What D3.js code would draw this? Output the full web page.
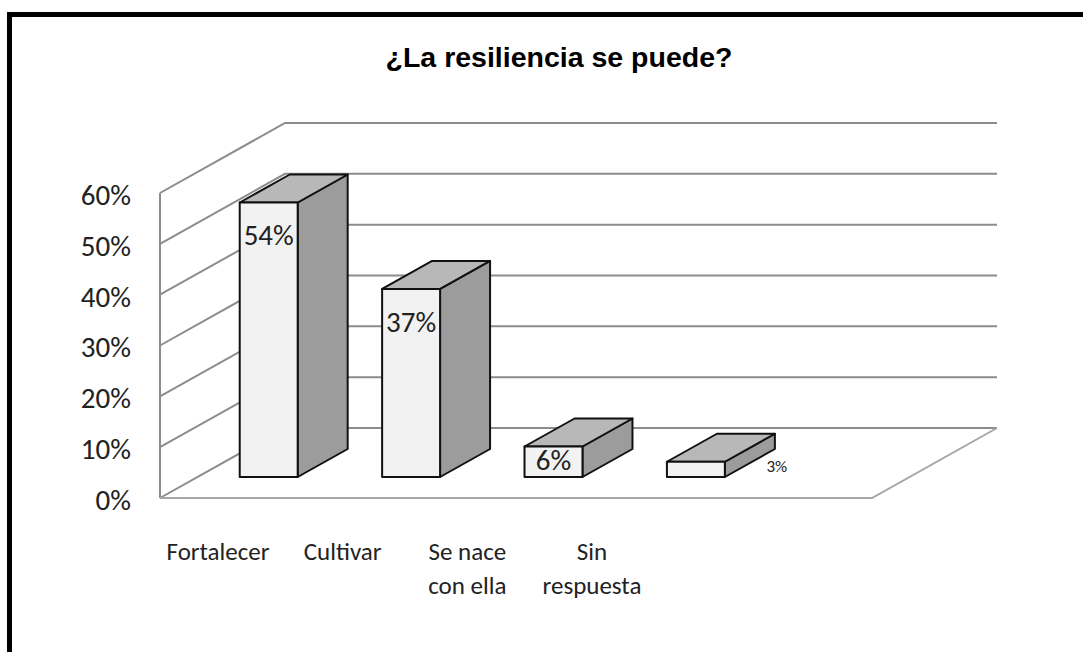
<!DOCTYPE html>
<html>
<head>
<meta charset="utf-8">
<script src="https://cdn.jsdelivr.net/npm/d3@7"></script>
<style>
  body { margin: 0; background: #fff; }
  svg { display: block; }
  .lbl { font-family: Carlito, Lato, "Open Sans", sans-serif; fill: #222; }
</style>
</head>
<body>
<svg id="chart" width="1083" height="652"></svg>
<script>
// chart values
const categories = ["Fortalecer", "Cultivar", "Se nace con ella", "Sin respuesta"];
const categoryLines = [["Fortalecer"], ["Cultivar"], ["Se nace", "con ella"], ["Sin", "respuesta"]];
const values = [0.54, 0.37, 0.06, 0.03];
const valueLabels = ["54%", "37%", "6%", "3%"];
const yTicks = [0, 0.1, 0.2, 0.3, 0.4, 0.5, 0.6];
const title = "¿La resiliencia se puede?";

let svg = d3.select("svg#chart");

// frame round the chart (runs off the right and bottom edge like the original)
svg.append("rect")
  .attr("x", 9.5).attr("y", 14.5)
  .attr("width", 1100).attr("height", 700)
  .attr("fill", "none").attr("stroke", "#000").attr("stroke-width", 5);

svg.append("text")
  .attr("x", 559).attr("y", 67)
  .attr("text-anchor", "middle")
  .style("font-family", "'Liberation Sans', Arial, sans-serif")
  .style("font-weight", "bold")
  .style("font-size", "28.5px")
  .text(title);

// front plane scales, depth is added by hand (fake 3d like excel)
let yScale = d3.scaleLinear().domain([0, 0.6]).range([498, 193]);
let step = 142.4;
let xScale = d3.scaleBand()
  .domain(categories)
  .range([160, 160 + categories.length * step])
  .paddingInner(0.593)
  .paddingOuter(0.2965);
let floorRight = 160 + (categories.length + 1) * step;
let depthX = 125, depthY = -70;

function proj(x, v, d) {
  return [x + depthX * d, yScale(v) + depthY * d];
}

let grid = svg.append("g").attr("fill", "none");

// side wall + back wall lines
yTicks.forEach(t => {
  let a = proj(160, t, 0), b = proj(160, t, 1), c = proj(floorRight, t, 1);
  grid.append("path")
    .attr("d", d3.line()([a, b, c]))
    .attr("stroke", "#8c8c8c").attr("stroke-width", 2);
});
// front edge of side wall
grid.append("path")
  .attr("d", d3.line()([proj(160, 0, 0), proj(160, 0.6, 0)]))
  .attr("stroke", "#8c8c8c").attr("stroke-width", 2);
// floor
grid.append("path")
  .attr("d", d3.line()([proj(160, 0, 0), proj(floorRight, 0, 0), proj(floorRight, 0, 1)]))
  .attr("stroke", "#a6a6a6").attr("stroke-width", 2);

// y axis labels
svg.append("g").selectAll("text")
  .data(yTicks)
  .enter().append("text")
  .attr("class", "lbl")
  .attr("x", 131)
  .attr("y", d => yScale(d) + 5)
  .attr("text-anchor", "end")
  .attr("dominant-baseline", "middle")
  .style("font-size", "29px")
  .text(d3.format(".0%"));

// bars
let d0 = 0.3, d1 = 0.7;
let bw = xScale.bandwidth();
let bars = svg.append("g")
  .attr("stroke", "#111").attr("stroke-width", 2).attr("stroke-linejoin", "round");

categories.forEach((c, i) => {
  let x0 = xScale(c), x1 = x0 + bw, v = values[i];
  let front = [proj(x0, 0, d0), proj(x1, 0, d0), proj(x1, v, d0), proj(x0, v, d0)];
  let top = [proj(x0, v, d0), proj(x1, v, d0), proj(x1, v, d1), proj(x0, v, d1)];
  let side = [proj(x1, 0, d0), proj(x1, v, d0), proj(x1, v, d1), proj(x1, 0, d1)];
  bars.append("path").attr("d", d3.line()(side) + "Z").attr("fill", "#9c9c9c");
  bars.append("path").attr("d", d3.line()(top) + "Z").attr("fill", "#b8b8b8");
  bars.append("path").attr("d", d3.line()(front) + "Z").attr("fill", "#f2f2f2");
});

// value labels
categories.forEach((c, i) => {
  let v = values[i];
  let cx = xScale(c) + bw / 2 + depthX * d0;
  let topY = yScale(v) + depthY * d0;
  let bottomY = yScale(0) + depthY * d0;
  let lx = cx, ly = topY + 36, size = 29;
  if (topY + 40 > bottomY) ly = (topY + bottomY) / 2 + 1;
  if (i == 3) { lx = cx + 81; ly = bottomY - 9; size = 17; }
  svg.append("text")
    .attr("class", "lbl")
    .attr("x", lx).attr("y", ly)
    .attr("text-anchor", "middle")
    .attr("dominant-baseline", "middle")
    .style("font-size", size + "px")
    .text(valueLabels[i]);
});

// category labels (excel puts them a bit off from the bars)
let labelScale = d3.scalePoint().domain(categories).range([218, 592]);
let cats = svg.append("g");
categories.forEach((c, i) => {
  let t = cats.append("text")
    .attr("class", "lbl")
    .attr("x", labelScale(c))
    .attr("y", 560)
    .attr("text-anchor", "middle")
    .style("font-size", "25px");
  categoryLines[i].forEach((line, j) => {
    t.append("tspan")
      .attr("x", labelScale(c))
      .attr("dy", j == 0 ? 0 : 34)
      .text(line);
  });
});
</script>
</body>
</html>
